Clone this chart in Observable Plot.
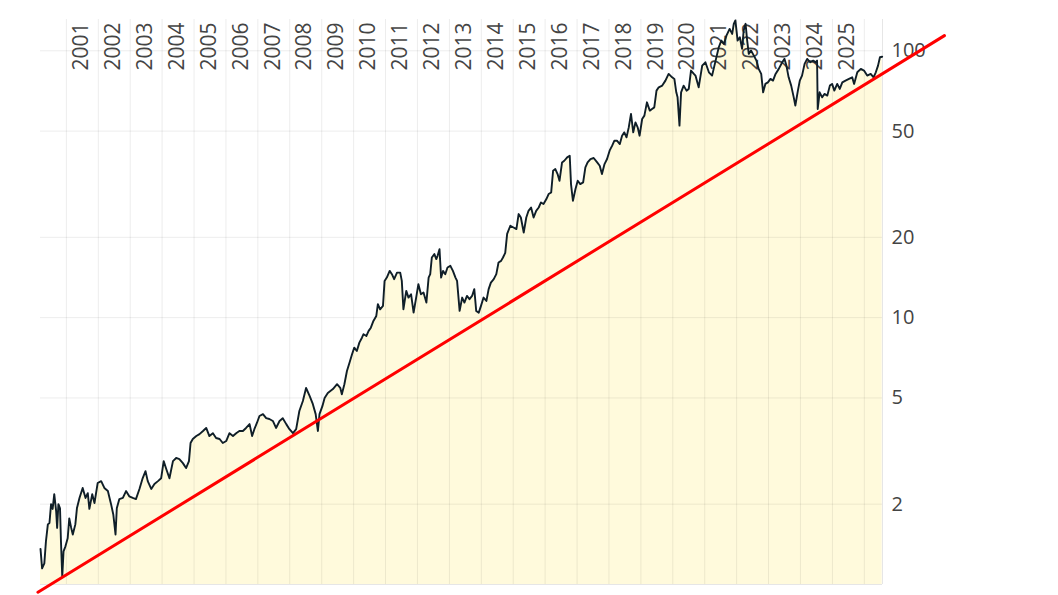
<!DOCTYPE html>
<html><head><meta charset="utf-8">
<script src="https://cdn.jsdelivr.net/npm/d3@7"></script>
<script src="https://cdn.jsdelivr.net/npm/@observablehq/plot@0.6"></script>
<style>
html,body{margin:0;padding:0;background:#fff;}
#chart{width:1058px;height:595px;}
</style></head><body><div id="chart"></div>
<script>
// price series: [decimal year, value]
const price = [
[2000.19,1.36],[2000.24,1.15],[2000.31,1.20],[2000.36,1.45],[2000.42,1.68],[2000.47,1.70],[2000.52,2.0],[2000.57,1.92],[2000.62,2.18],[2000.68,1.88],
[2000.71,1.63],[2000.75,2.0],[2000.80,1.93],[2000.83,1.45],[2000.87,1.07],[2000.91,1.33],[2000.97,1.39],[2001.04,1.49],[2001.09,1.77],[2001.15,1.63],
[2001.20,1.54],[2001.28,1.68],[2001.33,1.93],[2001.41,2.11],[2001.51,2.30],[2001.60,2.11],[2001.67,2.20],[2001.72,1.92],[2001.81,2.18],[2001.88,2.02],
[2001.98,2.40],[2002.09,2.44],[2002.19,2.30],[2002.30,2.24],[2002.40,2.0],[2002.47,1.83],[2002.54,1.54],[2002.58,1.93],[2002.66,2.09],[2002.77,2.11],
[2002.87,2.24],[2002.97,2.14],[2003.08,2.11],[2003.18,2.09],[2003.29,2.28],[2003.39,2.50],[2003.48,2.66],[2003.55,2.44],[2003.66,2.28],[2003.76,2.38],
[2003.87,2.44],[2003.97,2.50],[2004.05,2.90],[2004.13,2.71],[2004.23,2.50],[2004.34,2.90],[2004.44,2.98],[2004.54,2.95],[2004.65,2.85],[2004.75,2.73],
[2004.84,2.90],[2004.89,3.39],[2004.96,3.51],[2005.07,3.60],[2005.17,3.66],[2005.28,3.76],[2005.38,3.86],[2005.48,3.60],[2005.59,3.69],[2005.69,3.54],
[2005.80,3.51],[2005.90,3.39],[2006.01,3.45],[2006.11,3.69],[2006.22,3.60],[2006.32,3.69],[2006.42,3.76],[2006.53,3.76],[2006.63,3.86],[2006.74,3.99],
[2006.82,3.60],[2006.89,3.82],[2006.97,4.03],[2007.05,4.28],[2007.16,4.35],[2007.26,4.20],[2007.36,4.17],[2007.47,4.10],[2007.57,3.86],[2007.68,4.10],
[2007.78,4.20],[2007.89,3.99],[2007.99,3.82],[2008.10,3.69],[2008.20,3.82],[2008.30,4.47],[2008.41,4.87],[2008.51,5.45],[2008.62,5.09],[2008.72,4.75],
[2008.81,4.35],[2008.88,3.76],[2008.93,4.35],[2009.02,4.66],[2009.09,5.00],[2009.19,5.22],[2009.35,5.40],[2009.48,5.63],[2009.58,5.46],[2009.63,5.16],
[2009.71,5.63],[2009.79,6.31],[2009.87,6.78],[2009.95,7.29],[2010.02,7.72],[2010.10,7.50],[2010.18,8.06],[2010.26,8.41],[2010.31,8.67],[2010.40,8.54],
[2010.47,8.92],[2010.54,9.17],[2010.62,9.72],[2010.71,10.15],[2010.76,11.23],[2010.83,10.75],[2010.92,11.07],[2010.97,13.73],[2011.04,14.13],[2011.13,14.97],
[2011.20,14.55],[2011.27,13.94],[2011.36,14.75],[2011.46,14.75],[2011.51,13.73],[2011.56,10.75],[2011.65,12.60],[2011.72,11.89],[2011.80,12.24],[2011.88,10.44],
[2011.96,11.89],[2012.03,13.35],[2012.11,12.24],[2012.19,12.42],[2012.28,11.39],[2012.35,14.13],[2012.40,14.55],[2012.45,16.80],[2012.53,17.30],[2012.59,16.57],
[2012.63,17.05],[2012.69,18.06],[2012.74,14.13],[2012.80,14.97],[2012.87,14.55],[2012.94,15.41],[2013.03,15.64],[2013.11,14.97],[2013.19,14.13],[2013.24,13.73],
[2013.32,10.60],[2013.40,11.89],[2013.47,11.39],[2013.55,12.06],[2013.63,11.73],[2013.71,12.06],[2013.78,12.79],[2013.84,10.60],[2013.92,10.44],[2013.99,11.07],
[2014.07,11.89],[2014.16,11.55],[2014.23,12.79],[2014.30,13.53],[2014.39,13.94],[2014.47,14.55],[2014.54,16.09],[2014.62,16.32],[2014.68,16.80],[2014.75,17.5],
[2014.81,20.6],[2014.91,22.1],[2015.01,21.77],[2015.10,21.47],[2015.17,24.44],[2015.24,23.73],[2015.33,20.84],[2015.41,23.73],[2015.48,25.14],[2015.56,25.87],
[2015.64,23.73],[2015.72,25.14],[2015.80,25.87],[2015.87,27.02],[2015.95,26.65],[2016.04,27.82],[2016.11,29.05],[2016.19,29.46],[2016.25,35.52],[2016.32,36.05],
[2016.39,34.52],[2016.45,32.58],[2016.53,38.16],[2016.60,38.72],[2016.69,39.86],[2016.77,40.45],[2016.81,31.66],[2016.87,27.42],[2016.95,30.34],[2017.02,32.58],
[2017.10,31.66],[2017.19,32.11],[2017.26,36.55],[2017.33,38.16],[2017.42,39.30],[2017.52,39.65],[2017.63,38.16],[2017.71,37.09],[2017.78,34.52],[2017.86,37.63],
[2017.94,39.30],[2018.02,42.24],[2018.10,44.10],[2018.17,46.04],[2018.25,46.04],[2018.34,44.74],[2018.41,48.08],[2018.48,49.46],[2018.55,47.37],[2018.62,51.64],
[2018.69,57.99],[2018.76,49.46],[2018.83,53.92],[2018.90,51.64],[2018.96,48.08],[2019.04,55.52],[2019.11,57.15],[2019.19,64.11],[2019.28,59.67],[2019.35,60.53],
[2019.42,61.38],[2019.49,70.91],[2019.56,72.97],[2019.67,74.05],[2019.77,77.31],[2019.87,81.93],[2019.98,79.55],[2020.05,78.46],[2020.11,69.89],[2020.15,66.93],
[2020.21,52.41],[2020.26,69.89],[2020.34,74.05],[2020.43,70.91],[2020.50,71.95],[2020.57,84.31],[2020.66,81.93],[2020.71,80.72],[2020.81,72.97],[2020.92,88.0],
[2021.02,90.55],[2021.13,83.07],[2021.23,80.72],[2021.34,91.89],[2021.44,103.1],[2021.52,109.2],[2021.60,106.1],[2021.68,114.0],[2021.78,120.8],[2021.86,115.7],
[2021.91,126.2],[2021.96,130.0],[2022.03,109.2],[2022.10,112.4],[2022.17,101.7],[2022.22,119.1],[2022.28,126.2],[2022.33,109.2],[2022.38,97.37],[2022.45,100.2],
[2022.54,95.94],[2022.62,91.89],[2022.69,85.55],[2022.77,81.93],[2022.83,69.89],[2022.90,75.15],[2022.98,76.18],[2023.06,78.46],[2023.14,77.31],[2023.22,81.93],
[2023.32,85.55],[2023.43,90.55],[2023.50,93.25],[2023.56,88.0],[2023.63,79.55],[2023.71,74.05],[2023.79,66.93],[2023.84,62.29],[2023.92,70.91],[2023.98,77.31],
[2024.05,80.72],[2024.13,89.30],[2024.21,93.25],[2024.31,90.55],[2024.40,91.89],[2024.47,90.55],[2024.52,91.89],[2024.54,60.53],[2024.60,69.89],[2024.68,66.93],
[2024.75,68.92],[2024.84,67.92],[2024.92,74.05],[2024.99,75.15],[2025.06,70.91],[2025.15,75.15],[2025.23,71.95],[2025.31,76.18],[2025.41,77.31],[2025.52,78.46],
[2025.62,79.55],[2025.68,75.15],[2025.78,83.07],[2025.89,85.55],[2025.99,84.31],[2026.09,80.72],[2026.20,81.93],[2026.29,79.55],[2026.36,83.07],[2026.43,88.0],
[2026.49,94.57],[2026.56,95.0]
];
// exponential trend line endpoints: [decimal year, value]
const trend = [[2000.11, 0.935], [2028.51, 114.0]];
const yearLabels = d3.range(2001, 2026);
const yearGrid = d3.range(2001, 2027);
const yTicks = [2, 5, 10, 20, 50, 100];
const xDomain = [2000.19, 2026.57];
const yDomain = [1, 131];

function toDate(y) {
  const yr = Math.floor(y);
  const s = Date.UTC(yr, 0, 1), e = Date.UTC(yr + 1, 0, 1);
  return new Date(s + (y - yr) * (e - s));
}
const series = price.map(([t, v]) => ({date: toDate(t), value: v}));
const trendSeries = trend.map(([t, v]) => ({date: toDate(t), value: v}));

const chart = Plot.plot({
  width: 1058, height: 595,
  marginLeft: 40, marginRight: 176, marginTop: 19, marginBottom: 11,
  x: {type: "utc", domain: xDomain.map(toDate), axis: null},
  y: {type: "log", domain: yDomain, axis: null},
  style: {fontFamily: "'Open Sans', sans-serif", fontSize: "20px", color: "#444", background: "#fff", overflow: "visible"},
  marks: [
    Plot.areaY(series, {x: "date", y1: yDomain[0], y2: "value", fill: "#fffadc"}),
    Plot.gridX(yearGrid.map(y => new Date(Date.UTC(y, 0, 1))), {stroke: "#000", strokeOpacity: 0.075}),
    Plot.gridY(yTicks, {stroke: "#000", strokeOpacity: 0.075}),
    Plot.ruleY([yDomain[0]], {stroke: "#e6e6e6"}),
    Plot.ruleX([toDate(xDomain[1])], {stroke: "#e6e6e6"}),
    Plot.axisY(yTicks, {anchor: "right", tickSize: 0, tickPadding: 9, tickFormat: d => String(d), fontSize: 20, label: null}),
    Plot.text(yearLabels, {x: y => new Date(Date.UTC(y, 6, 2)), frameAnchor: "top", lineAnchor: "middle", text: d => String(d), rotate: -90, textAnchor: "end", dy: 3, dx: -1, fontSize: 21, fill: "#444"}),
    Plot.line(series, {x: "date", y: "value", stroke: "#0f1e28", strokeWidth: 1.9}),
    Plot.line(trendSeries, {x: "date", y: "value", stroke: "#ff0000", strokeWidth: 3})
  ]
});
document.getElementById("chart").appendChild(chart);
</script></body></html>
